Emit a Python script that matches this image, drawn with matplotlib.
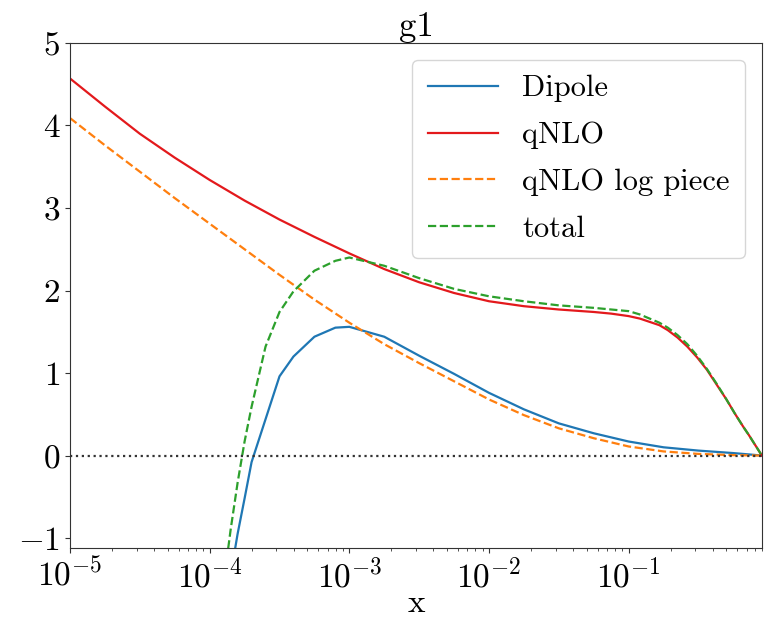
import numpy as np
import matplotlib
matplotlib.use('Agg')
import matplotlib.pyplot as plt

# values (log10 x -> g1)
logx_q = [-5.0, -4.75, -4.5, -4.25, -4.0, -3.75, -3.5, -3.25, -3.0, -2.75, -2.5, -2.25,
          -2.0, -1.75, -1.5, -1.25, -1.125, -1.0, -0.92, -0.85, -0.78, -0.72, -0.65,
          -0.58, -0.51, -0.44, -0.37, -0.30, -0.24, -0.18, -0.14, -0.11, -0.08, -0.046]
qnlo = [4.57, 4.23, 3.90, 3.61, 3.34, 3.09, 2.86, 2.65, 2.45, 2.26, 2.10, 1.97,
        1.87, 1.81, 1.77, 1.74, 1.72, 1.69, 1.66, 1.62, 1.58, 1.52, 1.43,
        1.32, 1.19, 1.04, 0.86, 0.68, 0.51, 0.35, 0.25, 0.17, 0.09, 0.0]

logx_log = [-5.0, -4.75, -4.5, -4.25, -4.0, -3.75, -3.5, -3.25, -3.0, -2.75, -2.5, -2.25,
            -2.0, -1.75, -1.5, -1.25, -1.0, -0.75, -0.5, -0.25, -0.046]
qnlo_log = [4.09, 3.76, 3.44, 3.12, 2.81, 2.50, 2.19, 1.89, 1.61, 1.35, 1.12, 0.90,
            0.68, 0.49, 0.33, 0.21, 0.11, 0.05, 0.02, 0.005, 0.0]

logx_dip = [-3.85, -3.80, -3.75, -3.70, -3.60, -3.50, -3.40, -3.25, -3.10, -3.0, -2.75, -2.5,
            -2.25, -2.0, -1.75, -1.5, -1.25, -1.0, -0.75, -0.5, -0.25, -0.046]
dipole = [-1.45, -0.95, -0.52, -0.08, 0.44, 0.96, 1.20, 1.44, 1.55, 1.56, 1.44, 1.21,
          0.99, 0.76, 0.56, 0.39, 0.27, 0.17, 0.10, 0.06, 0.03, 0.0]

logx_tot = [-3.90, -3.85, -3.80, -3.75, -3.70, -3.60, -3.50, -3.40, -3.25, -3.10, -3.0, -2.75,
            -2.5, -2.25, -2.0, -1.75, -1.5, -1.25, -1.0, -0.92, -0.85, -0.78, -0.72, -0.65,
            -0.58, -0.51, -0.44, -0.37, -0.30, -0.24, -0.18, -0.14, -0.11, -0.08, -0.046]
total = [-1.55, -0.90, -0.33, 0.17, 0.59, 1.32, 1.74, 1.99, 2.24, 2.36, 2.40, 2.30,
         2.15, 2.02, 1.93, 1.87, 1.82, 1.79, 1.75, 1.71, 1.66, 1.61, 1.55, 1.46,
         1.35, 1.21, 1.05, 0.87, 0.68, 0.51, 0.35, 0.25, 0.17, 0.09, 0.0]

plt.rcParams['font.family'] = 'serif'
plt.rcParams['font.serif'] = ['cmr10']
plt.rcParams['mathtext.fontset'] = 'cm'
plt.rcParams['axes.formatter.use_mathtext'] = True
plt.rcParams['font.size'] = 24

fig = plt.figure(figsize=(7.65, 6.21), dpi=100)
ax = fig.add_axes([0.0915, 0.1176, 0.9045, 0.8132])

ax.plot(10 ** np.array(logx_dip), dipole, color='#1f77b4', lw=1.6, label='Dipole')
ax.plot(10 ** np.array(logx_q), qnlo, color='#e3191c', lw=1.6, label='qNLO')
ax.plot(10 ** np.array(logx_log), qnlo_log, color='#ff7f0e', lw=1.6, ls='--', label='qNLO log piece')
ax.plot(10 ** np.array(logx_tot), total, color='#2ca02c', lw=1.6, ls='--', label='total')
ax.axhline(0, color='#333333', ls=':', lw=1.6)

ax.set_xscale('log')
ax.set_xlim(1e-5, 0.9)
ax.set_ylim(-1.12, 5)
ax.set_yticks([-1, 0, 1, 2, 3, 4, 5])

for s in ax.spines.values():
    s.set_color('#333333')
ax.tick_params(which='both', colors='#333333', labelcolor='black')

ax.set_title('g1', fontsize=25, pad=4)
ax.set_xlabel('x', fontsize=24, labelpad=-3)
ax.legend(loc='upper right', fontsize=22, handlelength=2.3, borderpad=0.5,
          labelspacing=0.63, handletextpad=0.8, borderaxespad=0.55)

plt.savefig('out.png', dpi=100)
